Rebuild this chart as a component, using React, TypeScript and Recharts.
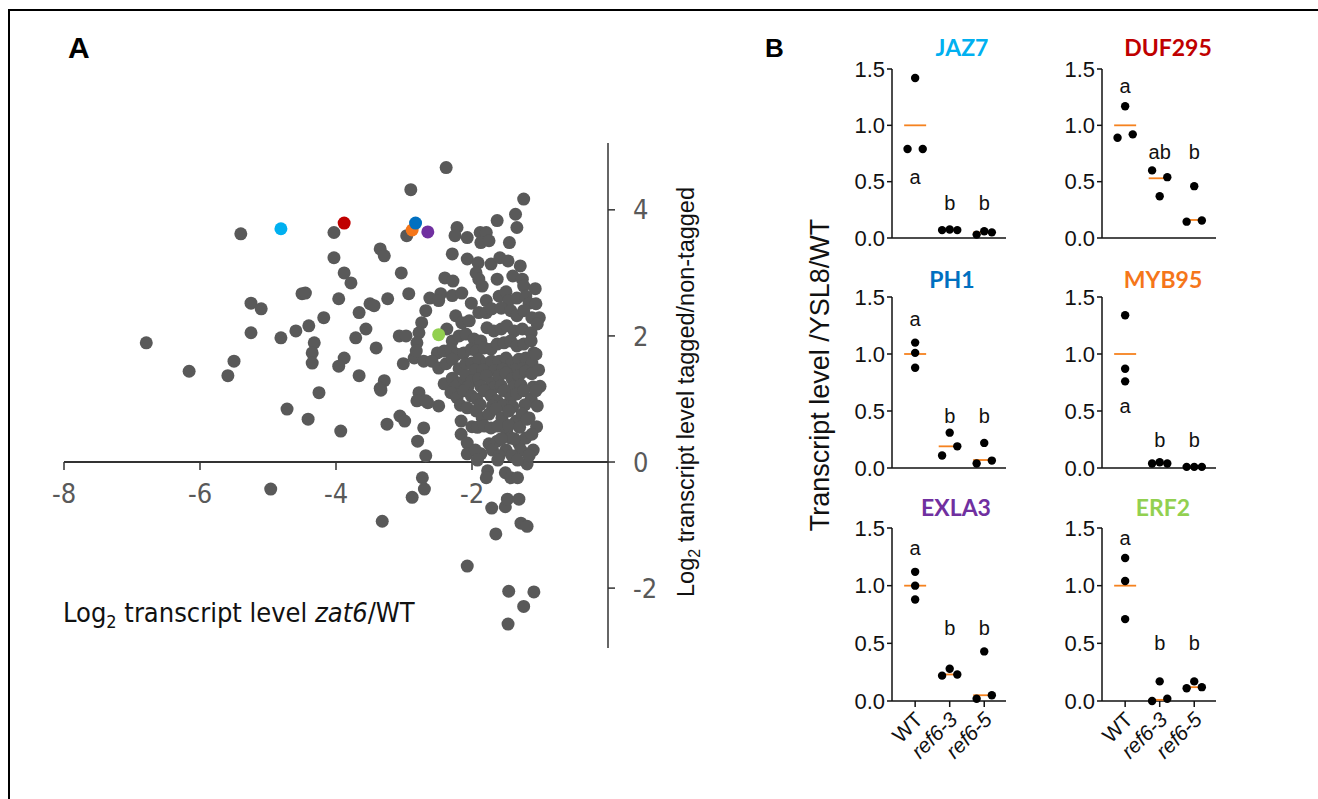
import React from "react";
import { ScatterChart, Scatter, XAxis, YAxis, ReferenceLine } from "recharts";

// ---------- Panel A: zat6/WT vs tagged/non-tagged (log2) ----------
const xTicksA = [-8, -6, -4, -2];
const yTicksA = [-2, 0, 2, 4];

// grey genes, [log2 zat6/WT, log2 tagged/non-tagged]
const greyGenes: number[][] = [
  [-2.38, 4.67], [-2.9, 4.32], [-1.24, 4.17], [-1.36, 3.93], [-1.63, 3.83], [-1.34, 3.72],
  [-5.4, 3.62], [-4.03, 3.64], [-2.96, 3.59], [-2.22, 3.72], [-2.25, 3.59], [-2.07, 3.56],
  [-1.88, 3.64], [-1.79, 3.64], [-1.87, 3.48], [-1.75, 3.51], [-1.45, 3.48], [-3.35, 3.38],
  [-3.29, 3.27], [-4.03, 3.24], [-2.29, 3.3], [-2.07, 3.22], [-1.91, 3.16], [-1.72, 3.14],
  [-1.59, 3.24], [-1.47, 3.19], [-1.29, 3.11], [-3.88, 3.0], [-3.78, 2.84], [-3.04, 3.0],
  [-2.4, 2.92], [-2.28, 2.87], [-1.94, 3.0], [-1.9, 2.9], [-1.85, 2.79], [-1.63, 2.9],
  [-1.4, 2.95], [-1.26, 2.9], [-1.24, 2.79], [-1.07, 2.75], [-4.5, 2.67], [-4.45, 2.68],
  [-3.96, 2.59], [-5.25, 2.52], [-5.1, 2.43], [-3.5, 2.51], [-3.44, 2.48], [-3.24, 2.59],
  [-2.93, 2.67], [-2.62, 2.6], [-2.46, 2.67], [-2.49, 2.56], [-2.29, 2.64], [-2.15, 2.68],
  [-2.01, 2.52], [-3.66, 2.37], [-4.18, 2.29], [-2.68, 2.4], [-5.25, 2.05], [-4.81, 1.97],
  [-4.59, 2.08], [-4.4, 2.16], [-3.56, 2.11], [-3.71, 1.97], [-6.79, 1.89], [-4.32, 1.89],
  [-3.41, 1.81], [-3.07, 2.0], [-2.97, 2.0], [-4.35, 1.73], [-4.35, 1.57], [-3.88, 1.65],
  [-3.96, 1.52], [-5.5, 1.6], [-6.16, 1.44], [-5.59, 1.37], [-3.66, 1.37], [-3.01, 1.56],
  [-2.85, 1.65], [-3.29, 1.29], [-3.35, 1.17], [-4.25, 1.1],
  [-4.72, 0.84], [-4.41, 0.68], [-3.93, 0.49], [-3.34, 1.14], [-3.06, 0.73], [-2.99, 0.65],
  [-3.25, 0.6], [-2.8, 0.33], [-2.71, 0.54], [-2.68, 0.1], [-2.49, 0.89], [-2.78, 1.1],
  [-2.81, 0.97], [-2.65, 0.94], [-2.16, 0.65], [-2.16, 0.44], [-2.07, 0.3], [-2.07, 0.13],
  [-1.87, 0.13],
  [-4.96, -0.43], [-2.73, -0.25], [-2.7, -0.43], [-2.88, -0.56], [-3.32, -0.94], [-1.77, -0.14],
  [-1.79, -0.25], [-1.51, -0.17], [-1.43, -0.25], [-1.33, -0.25], [-1.71, -0.73], [-1.51, -0.71],
  [-1.48, -0.59], [-1.31, -0.59], [-1.28, -0.97], [-1.19, -1.02], [-1.65, -1.14], [-2.07, -1.65],
  [-1.46, -2.05], [-1.09, -2.06], [-1.24, -2.29], [-1.47, -2.57], [-1.19, -0.03],
  [-1.79, 2.56], [-1.6, 2.63], [-1.5, 2.7], [-1.46, 2.56], [-1.34, 2.6], [-1.21, 2.63],
  [-1.16, 2.52], [-1.06, 2.51],
  [-2.24, 2.32], [-2.15, 2.21], [-2.04, 2.24], [-1.9, 2.37], [-1.79, 2.37], [-1.71, 2.43],
  [-1.57, 2.44], [-1.43, 2.4], [-1.34, 2.32], [-1.24, 2.4], [-1.12, 2.29], [-1.01, 2.29],
  [-2.74, 2.21], [-2.78, 2.05], [-2.81, 1.89], [-2.82, 1.76], [-2.37, 2.11],
  [-2.29, 1.92], [-2.19, 2.0], [-2.09, 2.03], [-1.97, 1.95], [-1.87, 1.92], [-1.78, 2.13],
  [-1.68, 2.08], [-1.57, 2.11], [-1.49, 2.16], [-1.38, 2.08], [-1.26, 2.11], [-1.13, 2.05],
  [-1.04, 2.19],
  [-2.51, 1.73], [-2.41, 1.76], [-2.31, 1.79], [-2.22, 1.71], [-2.12, 1.73], [-2.01, 1.79],
  [-1.93, 1.76], [-1.82, 1.81], [-1.72, 1.79], [-1.63, 1.87], [-1.53, 1.89], [-1.43, 1.92],
  [-1.34, 1.84], [-1.24, 1.87], [-1.13, 1.92], [-1.09, 1.73],
  [-2.71, 1.6], [-2.59, 1.6], [-2.49, 1.49], [-2.38, 1.56], [-2.29, 1.63], [-2.19, 1.48],
  [-2.09, 1.56], [-2.0, 1.57], [-1.9, 1.63], [-1.79, 1.56], [-1.71, 1.6], [-1.6, 1.6],
  [-1.5, 1.65], [-1.41, 1.57], [-1.31, 1.63], [-1.21, 1.65], [-1.12, 1.57], [-1.06, 1.71],
  [-1.96, 1.46], [-1.84, 1.46], [-1.66, 1.45], [-1.55, 1.47], [-1.37, 1.46], [-1.26, 1.48],
  [-1.02, 1.46],
  [-2.41, 1.24], [-2.29, 1.33], [-2.19, 1.25], [-2.09, 1.37], [-2.0, 1.29], [-1.9, 1.32],
  [-1.79, 1.37], [-1.71, 1.25], [-1.6, 1.37], [-1.5, 1.41], [-1.41, 1.32], [-1.31, 1.37],
  [-1.21, 1.44], [-1.12, 1.4], [-2.68, 0.97],
  [-2.25, 1.19], [-2.06, 1.19], [-1.87, 1.2], [-1.68, 1.18], [-1.57, 1.21], [-1.39, 1.19],
  [-1.28, 1.22], [-1.1, 1.19], [-1.0, 1.2],
  [-2.31, 1.1], [-2.22, 1.02], [-2.12, 1.13], [-2.01, 1.05], [-1.93, 1.0], [-1.82, 1.13],
  [-1.72, 1.05], [-1.63, 0.97], [-1.53, 1.13], [-1.43, 1.02], [-1.34, 1.08], [-1.24, 1.13],
  [-1.13, 1.0], [-1.04, 0.89], [-1.06, 1.13],
  [-2.17, 0.9], [-1.88, 0.91], [-1.7, 0.89], [-1.54, 0.9], [-1.4, 0.88], [-1.22, 0.91],
  [-2.07, 0.86], [-1.94, 0.81], [-1.85, 0.7], [-1.75, 0.76], [-1.65, 0.84], [-1.56, 0.7],
  [-1.46, 0.81], [-1.35, 0.65], [-1.26, 0.76], [-1.16, 0.7],
  [-2.0, 0.56], [-1.92, 0.55], [-1.82, 0.57], [-1.72, 0.54], [-1.62, 0.57], [-1.49, 0.49],
  [-1.46, 0.58], [-1.3, 0.55], [-1.19, 0.68], [-1.05, 0.56],
  [-1.75, 0.29], [-1.63, 0.33], [-1.43, 0.38], [-1.31, 0.29], [-1.21, 0.38], [-1.12, 0.44],
  [-1.71, 0.25], [-1.57, 0.37], [-1.38, 0.37],
  [-1.95, 0.19], [-1.7, 0.19], [-1.5, 0.19], [-1.28, 0.19], [-1.1, 0.19], [-1.6, 0.1],
  [-1.41, 0.1], [-1.16, 0.1], [-1.92, 0.03], [-1.62, 0.03], [-1.33, 0.03],
];

// genes picked out in colour (drawn on top)
const markedGenes = [
  { gene: "JAZ7", x: -4.81, y: 3.7 },
  { gene: "DUF295", x: -3.88, y: 3.79 },
  { gene: "MYB95", x: -2.88, y: 3.68 },
  { gene: "PH1", x: -2.83, y: 3.79 },
  { gene: "EXLA3", x: -2.65, y: 3.65 },
  { gene: "ERF2", x: -2.49, y: 2.02 },
];

// ---------- Panel B: qPCR, transcript level / YSL8 / WT ----------
const groups = ["WT", "ref6-3", "ref6-5"];

const jaz7Reps = [[1.42, 0.79, 0.79], [0.07, 0.075, 0.07], [0.03, 0.06, 0.05]];
const jaz7Lanes = [[0, -1, 1], [-1, 0, 1], [-1, 0, 1]];
const jaz7Means = [1.0, 0.07, 0.05];
const jaz7Letters = ["a", "b", "b"];
const jaz7LetterY = [0.54, 0.31, 0.31];

const duf295Reps = [[1.17, 0.89, 0.92], [0.6, 0.37, 0.54], [0.46, 0.145, 0.155]];
const duf295Lanes = [[0, -1, 1], [-1, 0, 1], [0, -1, 1]];
const duf295Means = [1.0, 0.53, 0.16];
const duf295Letters = ["a", "ab", "b"];
const duf295LetterY = [1.35, 0.76, 0.76];

const ph1Reps = [[1.1, 1.01, 0.88], [0.11, 0.31, 0.19], [0.04, 0.22, 0.065]];
const ph1Lanes = [[0, 0, 0], [-1, 0, 1], [-1, 0, 1]];
const ph1Means = [1.0, 0.19, 0.07];
const ph1Letters = ["a", "b", "b"];
const ph1LetterY = [1.31, 0.46, 0.46];

const myb95Reps = [[1.34, 0.87, 0.76], [0.04, 0.05, 0.04], [0.01, 0.01, 0.01]];
const myb95Lanes = [[0, 0, 0], [-1, 0, 1], [-1, 0, 1]];
const myb95Means = [1.0, 0.04, 0.01];
const myb95Letters = ["a", "b", "b"];
const myb95LetterY = [0.54, 0.25, 0.25];

const exla3Reps = [[1.12, 1.0, 0.88], [0.22, 0.28, 0.23], [0.02, 0.43, 0.05]];
const exla3Lanes = [[0, 0, 0], [-1, 0, 1], [-1, 0, 1]];
const exla3Means = [1.0, 0.23, 0.05];
const exla3Letters = ["a", "b", "b"];
const exla3LetterY = [1.33, 0.63, 0.63];

const erf2Reps = [[1.24, 1.04, 0.71], [0.0, 0.17, 0.02], [0.11, 0.17, 0.12]];
const erf2Lanes = [[0, 0, 0], [-1, 0, 1], [-1, 0, 1]];
const erf2Means = [1.0, 0.01, 0.12];
const erf2Letters = ["a", "b", "b"];
const erf2LetterY = [1.41, 0.5, 0.5];

const yTicksB = [0, 0.5, 1.0, 1.5];

const geneColors: Record<string, string> = {
  JAZ7: "#00B0F0",
  DUF295: "#C00000",
  PH1: "#0070C0",
  MYB95: "#F5761A",
  EXLA3: "#7030A0",
  ERF2: "#92D050",
};

const ARIAL = "'Liberation Sans', Arial, Helvetica, sans-serif";
const NARROW = "'Liberation Sans Narrow', 'Arial Narrow', 'DejaVu Sans Condensed', sans-serif";
const TITLE = "Lato, 'Open Sans', 'Noto Sans', sans-serif";
const GREY = "#595959";
const LANE = 0.22;

const PanelA = () => {
  const grey = greyGenes.map(([x, y]) => ({ x, y }));
  const ticks = xTicksA.map((x) => ({ x, y: 0 }));
  const XTick = (p: any) => (
    <g>
      <line x1={p.cx} y1={p.cy} x2={p.cx} y2={p.cy + 8} stroke="#333" strokeWidth={1.5} />
      <text x={p.cx} y={p.cy + 41} textAnchor="middle" fontSize={27} fontFamily={NARROW} fill={GREY}>
        {p.payload.x}
      </text>
    </g>
  );
  return (
    <div style={{ position: "absolute", left: 0, top: 0 }}>
      <ScatterChart width={700} height={700} margin={{ top: 143, left: 64, right: 22, bottom: 52 }}>
        <XAxis type="number" dataKey="x" domain={[-8, 0]} hide height={0} />
        <YAxis
          type="number"
          dataKey="y"
          orientation="right"
          domain={[-2.95, 5.06]}
          ticks={yTicksA}
          interval={0}
          width={70}
          tickSize={7}
          tickMargin={18}
          axisLine={{ stroke: "#333", strokeWidth: 1.5 }}
          tickLine={{ stroke: "#333", strokeWidth: 1.5 }}
          tick={{ fill: GREY, fontSize: 27, fontFamily: NARROW }}
        />
        <ReferenceLine y={0} stroke="#333" strokeWidth={2} />
        <Scatter data={ticks} isAnimationActive={false} shape={XTick} />
        <Scatter
          data={grey}
          isAnimationActive={false}
          shape={(p: any) => <circle cx={p.cx} cy={p.cy} r={6.5} fill={GREY} />}
        />
        <Scatter
          data={markedGenes}
          isAnimationActive={false}
          shape={(p: any) => <circle cx={p.cx} cy={p.cy} r={6.5} fill={geneColors[p.payload.gene]} />}
        />
      </ScatterChart>
    </div>
  );
};

type SubProps = {
  reps: number[][];
  lanes: number[][];
  means: number[];
  letters: string[];
  letterY: number[];
  left: number;
  top: number;
  plotH: number;
  bottom?: boolean;
};

const GroupTick = (p: any) => {
  const label = groups[p.payload.value];
  return (
    <text
      transform={`translate(${p.x + 9},${p.y + 12}) rotate(-45)`}
      textAnchor="end"
      fontSize={21}
      fontFamily={ARIAL}
      fontStyle={label.startsWith("ref") ? "italic" : "normal"}
      fill="#111"
    >
      {label}
    </text>
  );
};

const GenePlot = ({ reps, lanes, means, letters, letterY, left, top, plotH, bottom }: SubProps) => {
  const dots = reps.flatMap((g, gi) => g.map((v, k) => ({ x: gi + lanes[gi][k] * LANE, y: v })));
  const meanData = means.map((y, gi) => ({ x: gi, y }));
  const letterData = letters.map((t, gi) => ({ x: gi, y: letterY[gi], t }));
  const axisH = bottom ? 70 : 18;
  const mTop = 14;
  return (
    <div style={{ position: "absolute", left: left - 58, top: top - mTop }}>
      <ScatterChart width={182} height={plotH + mTop + axisH} margin={{ top: mTop, left: 0, right: 10, bottom: 0 }}>
        <XAxis
          type="number"
          dataKey="x"
          domain={[-0.67, 2.63]}
          ticks={[0, 1, 2]}
          interval={0}
          height={axisH}
          tickSize={6}
          axisLine={{ stroke: "#111", strokeWidth: 1.5 }}
          tickLine={{ stroke: "#111", strokeWidth: 1.5 }}
          tick={bottom ? GroupTick : false}
        />
        <YAxis
          type="number"
          dataKey="y"
          domain={[0, 1.5]}
          ticks={yTicksB}
          interval={0}
          width={58}
          tickSize={5}
          tickMargin={2}
          tickFormatter={(v: number) => v.toFixed(1)}
          axisLine={{ stroke: "#111", strokeWidth: 1.5 }}
          tickLine={{ stroke: "#111", strokeWidth: 1.5 }}
          tick={{ fill: "#111", fontSize: 22, fontFamily: ARIAL }}
        />
        <Scatter
          data={meanData}
          isAnimationActive={false}
          shape={(p: any) => (
            <line x1={p.cx - 11} x2={p.cx + 11} y1={p.cy} y2={p.cy} stroke="#F5821F" strokeWidth={1.8} />
          )}
        />
        <Scatter
          data={dots}
          isAnimationActive={false}
          shape={(p: any) => <circle cx={p.cx} cy={p.cy} r={4.2} fill="#000" />}
        />
        <Scatter
          data={letterData}
          isAnimationActive={false}
          shape={(p: any) => (
            <text x={p.cx} y={p.cy} textAnchor="middle" dominantBaseline="central" fontSize={20} fontFamily={ARIAL} fill="#111">
              {p.payload.t}
            </text>
          )}
        />
      </ScatterChart>
    </div>
  );
};

const Title = ({ gene, x, y }: { gene: string; x: number; y: number }) => (
  <text x={x} y={y} textAnchor="middle" fontSize={23} fontWeight="bold" fontFamily={TITLE} fill={geneColors[gene]}>
    {gene}
  </text>
);

export default function App() {
  return (
    <div style={{ position: "absolute", left: 0, top: 0, width: 1318, height: 799, background: "#fff", overflow: "hidden" }}>
      <PanelA />
      <GenePlot reps={jaz7Reps} lanes={jaz7Lanes} means={jaz7Means} letters={jaz7Letters} letterY={jaz7LetterY} left={892} top={69} plotH={169} />
      <GenePlot reps={duf295Reps} lanes={duf295Lanes} means={duf295Means} letters={duf295Letters} letterY={duf295LetterY} left={1102} top={69} plotH={169} />
      <GenePlot reps={ph1Reps} lanes={ph1Lanes} means={ph1Means} letters={ph1Letters} letterY={ph1LetterY} left={892} top={297} plotH={171} />
      <GenePlot reps={myb95Reps} lanes={myb95Lanes} means={myb95Means} letters={myb95Letters} letterY={myb95LetterY} left={1102} top={297} plotH={171} />
      <GenePlot reps={exla3Reps} lanes={exla3Lanes} means={exla3Means} letters={exla3Letters} letterY={exla3LetterY} left={892} top={528} plotH={173} bottom />
      <GenePlot reps={erf2Reps} lanes={erf2Lanes} means={erf2Means} letters={erf2Letters} letterY={erf2LetterY} left={1102} top={528} plotH={173} bottom />
      <svg width={1318} height={799} style={{ position: "absolute", left: 0, top: 0, pointerEvents: "none" }}>
        <rect x={9} y={10} width={1400} height={1000} fill="none" stroke="#000" strokeWidth={2} />
        <text x={68} y={58} fontSize={30} fontWeight="bold" fontFamily={ARIAL}>A</text>
        <text x={765} y={57} fontSize={26} fontWeight="bold" fontFamily={ARIAL}>B</text>
        <text x={63} y={622} fontSize={27} fontFamily={NARROW} fill="#111">
          Log<tspan fontSize={18} dy={6}>2</tspan>
          <tspan dy={-6}> transcript level </tspan>
          <tspan fontStyle="italic">zat6</tspan>
          <tspan>/WT</tspan>
        </text>
        <text transform="translate(694,392) rotate(-90)" textAnchor="middle" fontSize={23.5} fontFamily={ARIAL} fill="#111">
          Log<tspan fontSize={16} dy={6}>2</tspan>
          <tspan dy={-6}> transcript level tagged/non-tagged</tspan>
        </text>
        <text transform="translate(829,375) rotate(-90)" textAnchor="middle" fontSize={27} fontFamily={ARIAL} fill="#111">
          Transcript level /YSL8/WT
        </text>
        <Title gene="JAZ7" x={962} y={56} />
        <Title gene="DUF295" x={1168} y={56} />
        <Title gene="PH1" x={952} y={288} />
        <Title gene="MYB95" x={1163} y={288} />
        <Title gene="EXLA3" x={956} y={516} />
        <Title gene="ERF2" x={1163} y={516} />
      </svg>
    </div>
  );
}
